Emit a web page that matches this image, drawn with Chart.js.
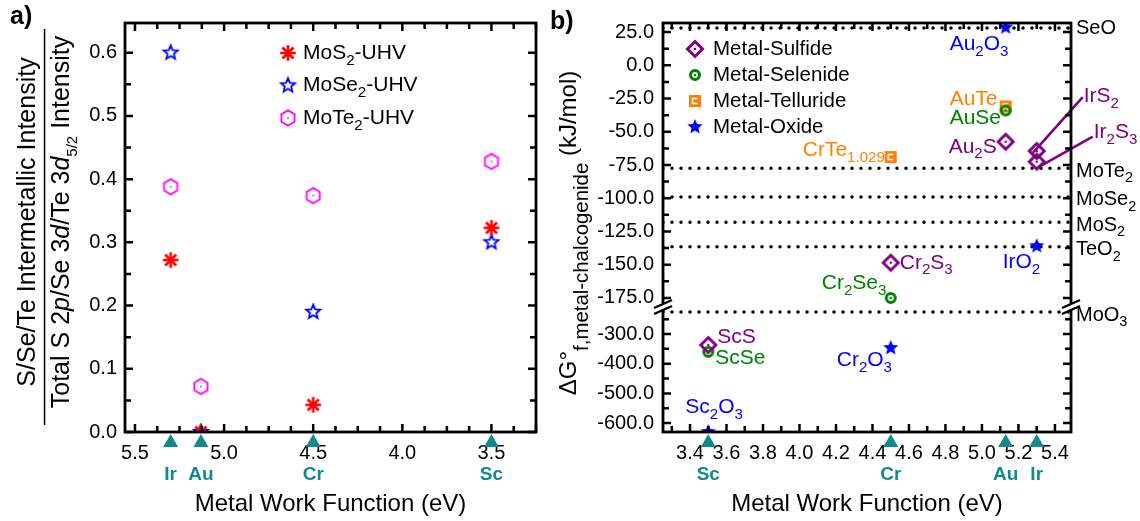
<!DOCTYPE html>
<html>
<head>
<meta charset="utf-8">
<title>Intermetallic intensity and formation energy vs metal work function</title>
<script src="https://cdn.jsdelivr.net/npm/chart.js@4.4.1/dist/chart.umd.min.js"></script>
<style>
  html, body { margin: 0; padding: 0; background: #fff; }
  #page { position: relative; width: 1140px; height: 521px; overflow: hidden; }
  #chartA { position: absolute; left: 0; top: 0; }
  #chartB { position: absolute; left: 545px; top: 0; }
</style>
</head>
<body>
<div id="page">
  <canvas id="chartA" width="545" height="521"></canvas>
  <canvas id="chartB" width="595" height="521"></canvas>
</div>
<script>
'use strict';

// metals and their work functions (eV)
const metals = ['Ir', 'Au', 'Cr', 'Sc'];
const workFunction = [5.30, 5.13, 4.50, 3.50];

// a) intermetallic / total chalcogen intensity, same order as metals
const mos2Ratio = [0.272, 0.000, 0.043, 0.323];
const mose2Ratio = [0.600, 0.000, 0.190, 0.300];
const mote2Ratio = [0.388, 0.072, 0.374, 0.428];

// b) formation energies (kJ/mol)
const sulfideNames = ['IrS_2', 'Ir_2S_3', 'Au_2S', 'Cr_2S_3', 'ScS'];
const sulfideMetal = ['Ir', 'Ir', 'Au', 'Cr', 'Sc'];
const sulfideDG = [-64.5, -72.5, -57.5, -148.5, -337];

const selenideNames = ['AuSe', 'Cr_2Se_3', 'ScSe'];
const selenideMetal = ['Au', 'Cr', 'Sc'];
const selenideDG = [-34, -175, -360];

const tellurideNames = ['AuTe', 'CrTe_{1.029}'];
const tellurideMetal = ['Au', 'Cr'];
const tellurideDG = [-31, -69];

const oxideNames = ['Au_2O_3', 'IrO_2', 'Cr_2O_3', 'Sc_2O_3'];
const oxideMetal = ['Au', 'Ir', 'Cr', 'Sc'];
const oxideDG = [28.5, -136, -347, -630];

// reference compounds drawn as dotted lines
const refNames = ['SeO', 'MoTe_2', 'MoSe_2', 'MoS_2', 'TeO_2', 'MoO_3'];
const refDG = [28, -77.5, -99, -118, -136.5, -226];

// axis ranges
const xRangeA = [3.25, 5.556];
const xRangeB = [3.252, 5.488];
const yRangeA = [0, 0.647];
const yTopRange = [-181.8, 31.8];
const yLowRange = [-630, -209];
const BREAK_AT = -195; // values below this go on the lower segment

const FONT = '"Liberation Sans", Arial, sans-serif';
const TEAL = '#14898c';
const RED = '#ff0000', BLUE = '#0000ff', MAGENTA = '#ff00ff';
const PURPLE = '#800080', GREEN = '#008000', ORANGE = '#ff8000';

Chart.defaults.font.family = FONT;

// text with _sub, _{sub} and *italic* parts
function richText(ctx, text, x, y, o) {
  const size = o.size || 20;
  const subSize = size * (o.subScale || 0.72);
  const shift = size * (o.subShift || 0.36);
  const parts = [];
  const re = /_\{([^}]*)\}|_(.)|\*([^*]+)\*|([^_*]+)/g;
  let m;
  while ((m = re.exec(text)) !== null) {
    if (m[1] !== undefined || m[2] !== undefined) parts.push({t: m[1] !== undefined ? m[1] : m[2], sub: true});
    else if (m[3] !== undefined) parts.push({t: m[3], italic: true});
    else parts.push({t: m[4]});
  }
  const font = (p) => `${p.italic ? 'italic ' : ''}${o.bold ? 'bold ' : ''}${p.sub ? subSize : size}px ${FONT}`;
  let width = 0;
  parts.forEach((p) => {
    ctx.font = font(p);
    p.w = ctx.measureText(p.t).width;
    width += p.w;
  });
  let cx = x;
  if (o.align === 'center') cx -= width / 2;
  else if (o.align === 'right') cx -= width;
  ctx.fillStyle = o.color || '#000';
  ctx.textAlign = 'left';
  ctx.textBaseline = 'middle';
  parts.forEach((p) => {
    ctx.font = font(p);
    ctx.fillText(p.t, cx, p.sub ? y + shift : y);
    cx += p.w;
  });
  return width;
}

// marker images
function makeMarker(size, paint) {
  const c = document.createElement('canvas');
  c.width = size;
  c.height = size;
  const g = c.getContext('2d');
  g.translate(size / 2, size / 2);
  paint(g);
  return c;
}

function starPath(g, R, r) {
  g.beginPath();
  for (let i = 0; i < 10; i++) {
    const a = -Math.PI / 2 + (i * Math.PI) / 5;
    const rr = i % 2 ? r : R;
    g.lineTo(rr * Math.cos(a), rr * Math.sin(a));
  }
  g.closePath();
}

const asterisk = makeMarker(20, (g) => {
  g.strokeStyle = RED;
  g.lineWidth = 2.6;
  for (let i = 0; i < 4; i++) {
    const a = (i * Math.PI) / 4;
    g.beginPath();
    g.moveTo(-7.8 * Math.cos(a), -7.8 * Math.sin(a));
    g.lineTo(7.8 * Math.cos(a), 7.8 * Math.sin(a));
    g.stroke();
  }
});

const openStar = makeMarker(20, (g) => {
  starPath(g, 7.4, 3.3);
  g.strokeStyle = BLUE;
  g.lineWidth = 1.8;
  g.stroke();
});

const hexagon = makeMarker(20, (g) => {
  g.beginPath();
  for (let i = 0; i < 6; i++) {
    const a = -Math.PI / 2 + (i * Math.PI) / 3;
    g.lineTo(7.6 * Math.cos(a), 7.6 * Math.sin(a));
  }
  g.closePath();
  g.strokeStyle = MAGENTA;
  g.lineWidth = 1.8;
  g.stroke();
  g.fillStyle = MAGENTA;
  g.fillRect(-0.8, -0.8, 1.6, 1.6);
});

const diamond = makeMarker(22, (g) => {
  g.beginPath();
  g.moveTo(0, -7.5);
  g.lineTo(7.5, 0);
  g.lineTo(0, 7.5);
  g.lineTo(-7.5, 0);
  g.closePath();
  g.strokeStyle = PURPLE;
  g.lineWidth = 3;
  g.stroke();
  g.fillStyle = PURPLE;
  g.beginPath();
  g.arc(0, 0, 1.3, 0, Math.PI * 2);
  g.fill();
});

const ring = makeMarker(16, (g) => {
  g.beginPath();
  g.arc(0, 0, 4.5, 0, Math.PI * 2);
  g.strokeStyle = GREEN;
  g.lineWidth = 3;
  g.stroke();
  g.fillStyle = GREEN;
  g.beginPath();
  g.arc(0, 0, 1.2, 0, Math.PI * 2);
  g.fill();
});

const square = makeMarker(16, (g) => {
  g.fillStyle = ORANGE;
  g.fillRect(-6, -6, 12, 12);
  g.strokeStyle = '#fff';
  g.lineWidth = 1.5;
  g.beginPath();
  g.moveTo(2.5, -2.5);
  g.lineTo(-2.5, -2.5);
  g.lineTo(-2.5, 2.5);
  g.lineTo(2.5, 2.5);
  g.stroke();
});

const filledStar = makeMarker(20, (g) => {
  starPath(g, 8, 3.6);
  g.fillStyle = BLUE;
  g.fill();
});

const wf = (metal) => workFunction[metals.indexOf(metal)];

// label only ticks that are multiples of step
const labelEvery = (step) => (v) =>
  Math.abs(v / step - Math.round(v / step)) < 1e-6 ? v.toFixed(1) : '';

const tickFont = {family: FONT, size: 20};
const titleFont = {family: FONT, size: 24};

// box with inward ticks on all four sides, plus the axis break
const frame = {
  id: 'frame',
  afterDraw(chart) {
    const {ctx, chartArea: a} = chart;
    ctx.save();
    ctx.strokeStyle = '#000';
    ctx.lineWidth = 2.5;
    Object.values(chart.scales).forEach((s) => {
      s.ticks.forEach((t) => {
        const p = s.getPixelForValue(t.value);
        const len = t.label ? 8 : 6;
        ctx.beginPath();
        if (s.isHorizontal()) {
          ctx.moveTo(p, a.bottom);
          ctx.lineTo(p, a.bottom - len);
          ctx.moveTo(p, a.top);
          ctx.lineTo(p, a.top + len);
        } else {
          ctx.moveTo(a.left, p);
          ctx.lineTo(a.left + len, p);
          ctx.moveTo(a.right, p);
          ctx.lineTo(a.right - len, p);
        }
        ctx.stroke();
      });
    });
    ctx.lineWidth = 2.8;
    ctx.strokeRect(a.left, a.top, a.width, a.height);

    const upper = chart.scales.yTop;
    if (upper) {
      const yb = upper.bottom;
      [a.left, a.right].forEach((x) => {
        ctx.fillStyle = '#fff';
        ctx.beginPath();
        ctx.moveTo(x - 9, yb - 3 + 4);
        ctx.lineTo(x + 9, yb - 3 - 4);
        ctx.lineTo(x + 9, yb + 3 - 4);
        ctx.lineTo(x - 9, yb + 3 + 4);
        ctx.closePath();
        ctx.fill();
        ctx.lineWidth = 2.4;
        ctx.beginPath();
        ctx.moveTo(x - 9, yb - 3 + 4);
        ctx.lineTo(x + 9, yb - 3 - 4);
        ctx.moveTo(x - 9, yb + 3 + 4);
        ctx.lineTo(x + 9, yb + 3 - 4);
        ctx.stroke();
      });
    }
    ctx.restore();
  },
};

// teal triangles and names of the metals under the x axis
const metalMarks = {
  id: 'metalMarks',
  afterDraw(chart) {
    const {ctx, chartArea: a, scales: {x}} = chart;
    ctx.save();
    metals.forEach((m, i) => {
      const px = x.getPixelForValue(workFunction[i]);
      ctx.fillStyle = TEAL;
      ctx.beginPath();
      ctx.moveTo(px, a.bottom + 2);
      ctx.lineTo(px + 7.5, a.bottom + 15);
      ctx.lineTo(px - 7.5, a.bottom + 15);
      ctx.closePath();
      ctx.fill();
      richText(ctx, m, px, a.bottom + 43, {size: 19, bold: true, color: TEAL, align: 'center'});
    });
    ctx.restore();
  },
};

function legendPlugin(items, lay) {
  return {
    id: 'richLegend',
    afterDraw(chart) {
      const {ctx, chartArea: a} = chart;
      ctx.save();
      items.forEach((it, i) => {
        const x = a.left + lay.left;
        const y = a.top + lay.top + i * lay.gap;
        ctx.drawImage(it.marker, x - it.marker.width / 2, y - it.marker.height / 2);
        richText(ctx, it.text, x + lay.textGap, y, {size: lay.size});
      });
      ctx.restore();
    },
  };
}

// ---------- panel a ----------
const pointsA = (vals) => metals.map((m, i) => ({x: workFunction[i], y: vals[i]}));

const annotA = {
  id: 'annotA',
  afterDraw(chart) {
    const {ctx} = chart;
    ctx.save();
    richText(ctx, 'a)', 10, 17, {size: 25, bold: true});
    ctx.save();
    ctx.translate(28, 222);
    ctx.rotate(-Math.PI / 2);
    richText(ctx, 'S/Se/Te Intermetallic Intensity', 0, 0, {size: 25, align: 'center'});
    ctx.restore();
    ctx.save();
    ctx.translate(62.5, 222);
    ctx.rotate(-Math.PI / 2);
    richText(ctx, 'Total S 2*p*/Se 3*d*/Te 3*d*_{5/2} Intensity', 0, 0,
      {size: 25, align: 'center', subScale: 0.6, subShift: 0.42});
    ctx.restore();
    ctx.fillStyle = '#000';
    ctx.fillRect(43.8, 29, 1.5, 396);
    ctx.restore();
  },
};

new Chart(document.getElementById('chartA'), {
  type: 'scatter',
  data: {
    datasets: [
      {label: 'MoS2-UHV', data: pointsA(mos2Ratio), pointStyle: asterisk, pointRadius: 8},
      {label: 'MoSe2-UHV', data: pointsA(mose2Ratio), pointStyle: openStar, pointRadius: 8},
      {label: 'MoTe2-UHV', data: pointsA(mote2Ratio), pointStyle: hexagon, pointRadius: 8},
    ],
  },
  options: {
    responsive: false,
    animation: false,
    events: [],
    layout: {padding: {top: 23, right: 8, left: 0, bottom: 0}},
    plugins: {legend: {display: false}, tooltip: {enabled: false}},
    scales: {
      x: {
        type: 'linear',
        reverse: true,
        min: xRangeA[0],
        max: xRangeA[1],
        afterFit: (s) => { s.height = 89; },
        grid: {display: false, drawTicks: false},
        border: {display: false},
        ticks: {
          stepSize: 0.125, autoSkip: false, maxRotation: 0, minRotation: 0, includeBounds: false,
          padding: 9, font: tickFont, color: '#000', callback: labelEvery(0.5),
        },
        title: {display: true, text: 'Metal Work Function (eV)', font: titleFont, color: '#000', padding: {top: 0, bottom: 2}},
      },
      y: {
        type: 'linear',
        min: yRangeA[0],
        max: yRangeA[1],
        afterFit: (s) => { s.width = 125; },
        grid: {display: false, drawTicks: false},
        border: {display: false},
        ticks: {
          stepSize: 0.05, autoSkip: false, includeBounds: false,
          padding: 8, font: tickFont, color: '#000', callback: labelEvery(0.1),
        },
      },
    },
  },
  plugins: [
    frame,
    metalMarks,
    legendPlugin([
      {marker: asterisk, text: 'MoS_2-UHV'},
      {marker: openStar, text: 'MoSe_2-UHV'},
      {marker: hexagon, text: 'MoTe_2-UHV'},
    ], {left: 163, top: 30, gap: 32.5, textGap: 15, size: 21}),
    annotA,
  ],
});

// ---------- panel b ----------
// label offsets (px) from each marker: [dx, dy] of the text's left/middle
const labelOffset = {
  'Au_2O_3': [-56, 17], 'AuTe': [-56, -7], 'AuSe': [-56, 8], 'Au_2S': [-57, 5],
  'CrTe_{1.029}': [-88, -7], 'IrS_2': [47, -55], 'Ir_2S_3': [57, -29],
  'Cr_2S_3': [9, 0], 'Cr_2Se_3': [-69, -15], 'IrO_2': [-34, 16],
  'ScS': [9, -8], 'ScSe': [7, 6], 'Cr_2O_3': [-54, 12], 'Sc_2O_3': [-23, -25],
};
// leader lines: start offset from marker, end offset from label anchor
const leaders = {
  'IrS_2': [[-4, 2], [-1, 1]],
  'Ir_2S_3': [[1, 6], [-1, 4]],
};

function seriesB(names, metalOf, dg, marker, color) {
  const pts = names.map((n, i) => ({x: wf(metalOf[i]), y: dg[i], name: n}));
  const base = {pointStyle: marker, pointRadius: 8, labelColor: color, order: 1};
  return [
    {...base, yAxisID: 'yTop', data: pts.filter((p) => p.y >= BREAK_AT)},
    {...base, yAxisID: 'yLow', data: pts.filter((p) => p.y < BREAK_AT)},
  ];
}

const refDatasets = refNames.map((n, i) => ({
  refName: n,
  yAxisID: refDG[i] >= BREAK_AT ? 'yTop' : 'yLow',
  data: [{x: xRangeB[0], y: refDG[i]}, {x: xRangeB[1], y: refDG[i]}],
  showLine: true,
  pointRadius: 0,
  borderColor: '#000',
  borderWidth: 3.5,
  borderDash: [0, 9],
  borderCapStyle: 'round',
  order: 5,
}));

const annotB = {
  id: 'annotB',
  afterDatasetsDraw(chart) {
    const {ctx, chartArea: a} = chart;
    ctx.save();
    chart.data.datasets.forEach((ds, di) => {
      const meta = chart.getDatasetMeta(di);
      if (ds.refName) {
        const el = meta.data[1];
        const dy = ds.refName === 'SeO' ? 0 : 3;
        richText(ctx, ds.refName, a.right + 5, el.y + dy, {size: 20});
        return;
      }
      ds.data.forEach((pt, j) => {
        const el = meta.data[j];
        const off = labelOffset[pt.name];
        if (!off) return;
        const lx = el.x + off[0];
        const ly = el.y + off[1];
        const ld = leaders[pt.name];
        if (ld) {
          ctx.strokeStyle = ds.labelColor;
          ctx.lineWidth = 2.6;
          ctx.beginPath();
          ctx.moveTo(el.x + ld[0][0], el.y + ld[0][1]);
          ctx.lineTo(lx + ld[1][0], ly + ld[1][1]);
          ctx.stroke();
        }
        richText(ctx, pt.name, lx, ly, {size: 21, color: ds.labelColor});
      });
    });
    ctx.restore();
  },
  afterDraw(chart) {
    const {ctx} = chart;
    ctx.save();
    richText(ctx, 'b)', 5, 22, {size: 25, bold: true});
    ctx.translate(24, 233);
    ctx.rotate(-Math.PI / 2);
    richText(ctx, '\u0394G\u00b0_{f,metal-chalcogenide} (kJ/mol)', 0, 0,
      {size: 24, align: 'center', subScale: 0.85, subShift: 0.55});
    ctx.restore();
  },
};

new Chart(document.getElementById('chartB'), {
  type: 'scatter',
  data: {
    datasets: [
      ...refDatasets,
      ...seriesB(sulfideNames, sulfideMetal, sulfideDG, diamond, PURPLE),
      ...seriesB(selenideNames, selenideMetal, selenideDG, ring, GREEN),
      ...seriesB(tellurideNames, tellurideMetal, tellurideDG, square, ORANGE),
      ...seriesB(oxideNames, oxideMetal, oxideDG, filledStar, BLUE),
    ],
  },
  options: {
    responsive: false,
    animation: false,
    events: [],
    layout: {padding: {top: 23, right: 69, left: 0, bottom: 0}},
    plugins: {legend: {display: false}, tooltip: {enabled: false}},
    scales: {
      x: {
        type: 'linear',
        min: xRangeB[0],
        max: xRangeB[1],
        afterFit: (s) => { s.height = 89; },
        grid: {display: false, drawTicks: false},
        border: {display: false},
        ticks: {
          stepSize: 0.1, autoSkip: false, maxRotation: 0, minRotation: 0, includeBounds: false,
          padding: 9, font: tickFont, color: '#000', callback: labelEvery(0.2),
        },
        title: {display: true, text: 'Metal Work Function (eV)', font: titleFont, color: '#000', padding: {top: 0, bottom: 2}},
      },
      yLow: {
        type: 'linear',
        position: 'left',
        stack: 'dg',
        stackWeight: 125,
        min: yLowRange[0],
        max: yLowRange[1],
        afterFit: (s) => { s.width = 118; },
        grid: {display: false, drawTicks: false},
        border: {display: false},
        ticks: {
          stepSize: 50, autoSkip: false, includeBounds: false,
          padding: 9, font: tickFont, color: '#000', callback: labelEvery(100),
        },
      },
      yTop: {
        type: 'linear',
        position: 'left',
        stack: 'dg',
        stackWeight: 284,
        min: yTopRange[0],
        max: yTopRange[1],
        afterFit: (s) => { s.width = 118; },
        grid: {display: false, drawTicks: false},
        border: {display: false},
        ticks: {
          stepSize: 12.5, autoSkip: false, includeBounds: false,
          padding: 9, font: tickFont, color: '#000', callback: labelEvery(25),
        },
      },
    },
  },
  plugins: [
    frame,
    metalMarks,
    legendPlugin([
      {marker: diamond, text: 'Metal-Sulfide'},
      {marker: ring, text: 'Metal-Selenide'},
      {marker: square, text: 'Metal-Telluride'},
      {marker: filledStar, text: 'Metal-Oxide'},
    ], {left: 32, top: 26, gap: 26, textGap: 18, size: 20.5}),
    annotB,
  ],
});
</script>
</body>
</html>
